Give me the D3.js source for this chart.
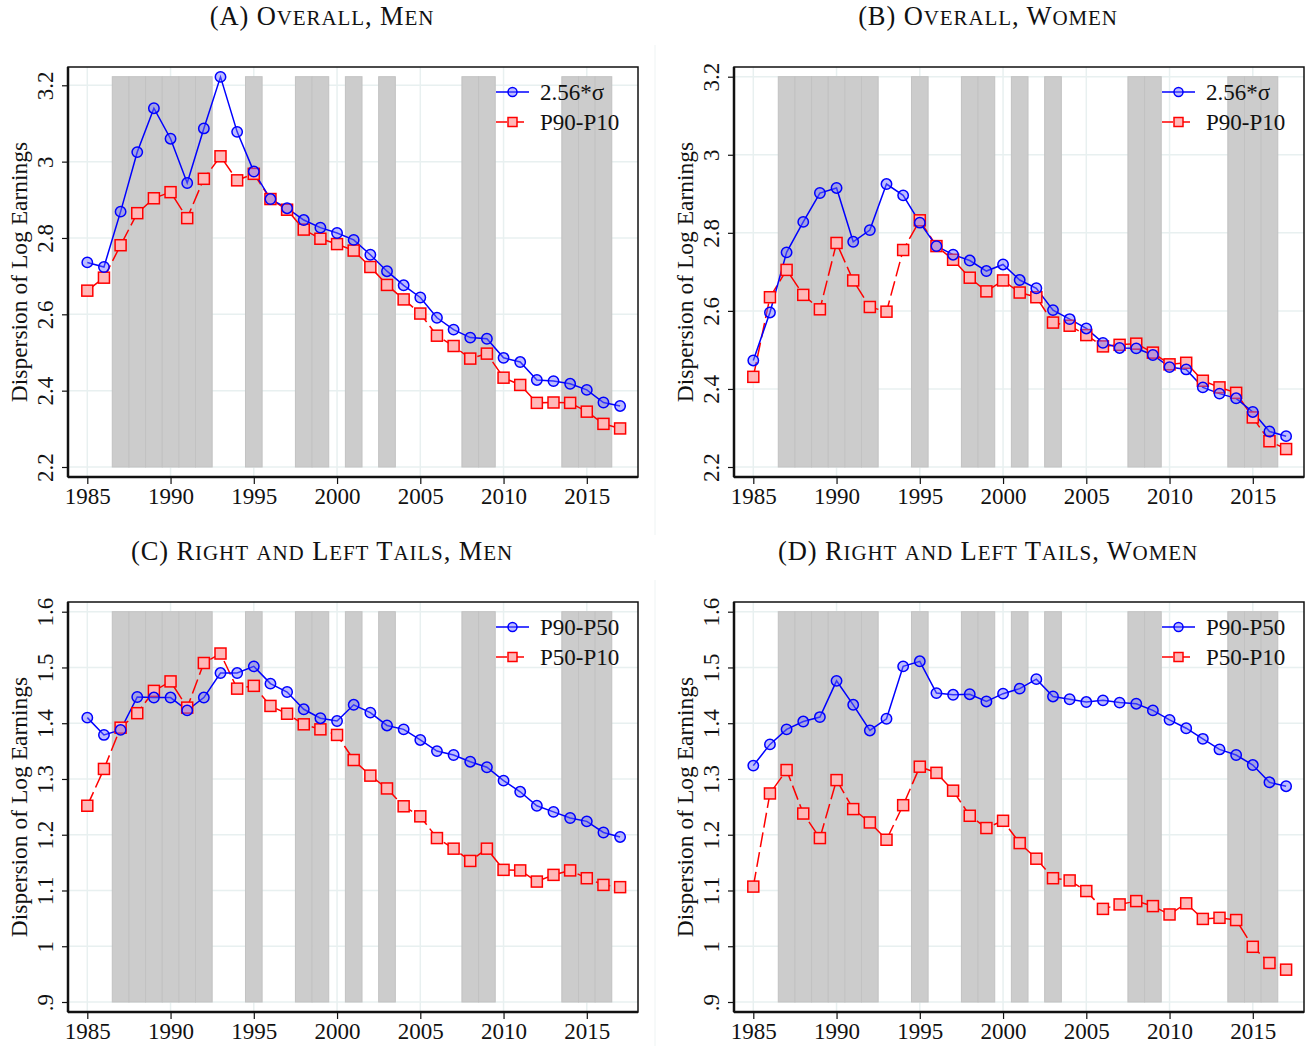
<!DOCTYPE html>
<html>
<head>
<meta charset="utf-8">
<script src="https://cdn.jsdelivr.net/npm/d3@7"></script>
<style>
  body { margin: 0; background: #fff; }
  svg text { font-family: "Liberation Serif", "DejaVu Serif", serif; fill: #111; }
</style>
</head>
<body>
<svg id="chart" width="1305" height="1046"></svg>
<script>
const years = d3.range(1985, 2018);
const recessionYears = [1987, 1988, 1989, 1990, 1991, 1992, 1995, 1998, 1999, 2001, 2003, 2008, 2009, 2014, 2015, 2016];

const titles = ["(A) Overall, Men", "(B) Overall, Women", "(C) Right and Left Tails, Men", "(D) Right and Left Tails, Women"];
const legendLabels = [["2.56*σ", "P90-P10"], ["2.56*σ", "P90-P10"], ["P90-P50", "P50-P10"], ["P90-P50", "P50-P10"]];
const yTicksTop = [2.2, 2.4, 2.6, 2.8, 3, 3.2];
const yTicksBottom = [0.9, 1, 1.1, 1.2, 1.3, 1.4, 1.5, 1.6];
const xTicks = [1985, 1990, 1995, 2000, 2005, 2010, 2015];

// panel A: overall, men
const menSigma = [2.736, 2.724, 2.869, 3.025, 3.140, 3.060, 2.944, 3.087, 3.222, 3.078, 2.974, 2.902, 2.878, 2.847, 2.827,
  2.813, 2.795, 2.756, 2.713, 2.676, 2.644, 2.591, 2.560, 2.539, 2.536, 2.486, 2.475, 2.428, 2.425, 2.418, 2.402, 2.369, 2.360];
const menP90P10 = [2.662, 2.696, 2.781, 2.865, 2.904, 2.920, 2.852, 2.955, 3.014, 2.951, 2.968, 2.902, 2.874, 2.822, 2.798,
  2.784, 2.767, 2.724, 2.677, 2.639, 2.602, 2.544, 2.517, 2.484, 2.497, 2.434, 2.415, 2.368, 2.369, 2.368, 2.345, 2.313, 2.301];
// panel B: overall, women
const womenSigma = [2.473, 2.596, 2.750, 2.828, 2.902, 2.915, 2.777, 2.807, 2.925, 2.896, 2.826, 2.766, 2.744, 2.729, 2.702,
  2.719, 2.679, 2.658, 2.602, 2.579, 2.555, 2.518, 2.505, 2.504, 2.487, 2.456, 2.450, 2.404, 2.388, 2.376, 2.341, 2.291, 2.279];
const womenP90P10 = [2.431, 2.635, 2.705, 2.641, 2.604, 2.774, 2.678, 2.610, 2.598, 2.756, 2.832, 2.766, 2.731, 2.685, 2.650,
  2.678, 2.647, 2.635, 2.570, 2.562, 2.538, 2.509, 2.513, 2.516, 2.493, 2.463, 2.467, 2.421, 2.404, 2.390, 2.327, 2.266, 2.246];
// panel C: tails, men
const menP90P50 = [1.410, 1.379, 1.388, 1.447, 1.446, 1.446, 1.423, 1.446, 1.490, 1.490, 1.502, 1.471, 1.456, 1.425, 1.409,
  1.404, 1.433, 1.419, 1.396, 1.389, 1.370, 1.350, 1.343, 1.331, 1.321, 1.297, 1.277, 1.252, 1.241, 1.230, 1.224, 1.204, 1.196];
const menP50P10 = [1.252, 1.318, 1.392, 1.418, 1.458, 1.475, 1.428, 1.508, 1.525, 1.462, 1.467, 1.431, 1.417, 1.398, 1.389,
  1.379, 1.334, 1.306, 1.283, 1.251, 1.233, 1.194, 1.175, 1.153, 1.175, 1.137, 1.136, 1.116, 1.128, 1.136, 1.122, 1.110, 1.106];
// panel D: tails, women
const womenP90P50 = [1.324, 1.362, 1.389, 1.403, 1.411, 1.476, 1.433, 1.387, 1.408, 1.502, 1.511, 1.454, 1.451, 1.452, 1.439,
  1.453, 1.462, 1.479, 1.448, 1.443, 1.438, 1.441, 1.437, 1.435, 1.423, 1.406, 1.391, 1.372, 1.353, 1.343, 1.325, 1.294, 1.287];
const womenP50P10 = [1.107, 1.274, 1.316, 1.238, 1.194, 1.298, 1.246, 1.222, 1.191, 1.253, 1.322, 1.311, 1.279, 1.234, 1.212,
  1.225, 1.185, 1.157, 1.122, 1.118, 1.099, 1.067, 1.075, 1.081, 1.072, 1.057, 1.077, 1.049, 1.051, 1.047, 0.999, 0.970, 0.958];

const panels = [
  {ox: 0, oy: 0, blue: menSigma, red: menP90P10, ydom: [2.2, 3.2225], ticks: yTicksTop, fmt: d => String(d)},
  {ox: 666, oy: 0, blue: womenSigma, red: womenP90P10, ydom: [2.2, 3.2], ticks: yTicksTop, fmt: d => String(d)},
  {ox: 0, oy: 535, blue: menP90P50, red: menP50P10, ydom: [0.9, 1.6], ticks: yTicksBottom, fmt: d => d === 0.9 ? ".9" : String(d)},
  {ox: 666, oy: 535, blue: womenP90P50, red: womenP50P10, ydom: [0.9, 1.6], ticks: yTicksBottom, fmt: d => d === 0.9 ? ".9" : String(d)}
];

const svg = d3.select("#chart");
const frame = {left: 68, right: 638, top: 67, bottom: 477};
const xScale = d3.scaleLinear().domain([1985, 2017]).range([87.3, 620.1]);

// faint panel separators
svg.append("line").attr("x1", 655).attr("x2", 655).attr("y1", 45).attr("y2", 535)
  .attr("stroke", "#eef3f3").attr("stroke-width", 1);
svg.append("line").attr("x1", 655).attr("x2", 655).attr("y1", 580).attr("y2", 1046)
  .attr("stroke", "#eef3f3").attr("stroke-width", 1);

// small caps by hand: capitals big, lower case letters as smaller capitals
function smallCaps(sel, str) {
  const parts = str.match(/[a-z]+|[^a-z]+/g);
  parts.forEach(s => {
    const lower = /^[a-z]+$/.test(s);
    sel.append("tspan")
      .style("font-size", lower ? "21px" : "26.5px")
      .text(lower ? s.toUpperCase() : s);
  });
}

panels.forEach((p, i) => {
  const g = svg.append("g").attr("transform", `translate(${p.ox},${p.oy})`);
  const yScale = d3.scaleLinear().domain(p.ydom).range([467, 76.7]);

  const title = g.append("text")
    .attr("x", 322).attr("y", 25)
    .attr("text-anchor", "middle")
    .style("letter-spacing", "0.9px");
  smallCaps(title, titles[i]);

  // gridlines
  g.append("g").selectAll("line").data(p.ticks).enter().append("line")
    .attr("x1", frame.left).attr("x2", frame.right)
    .attr("y1", d => yScale(d)).attr("y2", d => yScale(d))
    .attr("stroke", "#e8f0f0").attr("stroke-width", 1.5);
  g.append("g").selectAll("line").data(xTicks).enter().append("line")
    .attr("x1", d => xScale(d)).attr("x2", d => xScale(d))
    .attr("y1", frame.top).attr("y2", frame.bottom)
    .attr("stroke", "#e8f0f0").attr("stroke-width", 1.5);

  // recession shading, one rect per year
  g.append("g").selectAll("rect").data(recessionYears).enter().append("rect")
    .attr("x", d => xScale(d - 0.5))
    .attr("width", d => xScale(d + 0.5) - xScale(d - 0.5))
    .attr("y", yScale(p.ydom[1]))
    .attr("height", yScale(p.ydom[0]) - yScale(p.ydom[1]))
    .attr("fill", "#cccccc").attr("stroke", "#c2c2c2").attr("stroke-width", 1);

  // frame
  g.append("rect")
    .attr("x", frame.left).attr("y", frame.top)
    .attr("width", frame.right - frame.left).attr("height", frame.bottom - frame.top)
    .attr("fill", "none").attr("stroke", "#111").attr("stroke-width", 1.5);

  // axes
  const xAxis = d3.axisBottom(xScale).tickValues(xTicks).tickSize(7).tickPadding(4).tickFormat(d3.format("d"));
  const xg = g.append("g").attr("transform", `translate(0,${frame.bottom})`).call(xAxis);
  xg.select(".domain").attr("d", `M${frame.left},0H${frame.right}`).attr("stroke", "#111").attr("stroke-width", 2.5);
  xg.selectAll(".tick line").attr("stroke", "#111").attr("stroke-width", 1.2);
  xg.selectAll(".tick text").style("font-size", "23px").style("font-family", "Liberation Serif").attr("fill", "#111");

  const yAxis = d3.axisLeft(yScale).tickValues(p.ticks).tickSize(6).tickFormat(p.fmt);
  const yg = g.append("g").attr("transform", `translate(${frame.left},0)`).call(yAxis);
  yg.select(".domain").attr("d", `M0,${frame.top}V${frame.bottom}`).attr("stroke", "#111").attr("stroke-width", 2.5);
  yg.selectAll(".tick line").attr("stroke", "#111").attr("stroke-width", 1.2);
  yg.selectAll(".tick text")
    .attr("x", null).attr("dy", null)
    .attr("transform", "translate(-15,0) rotate(-90)")
    .attr("text-anchor", "middle")
    .attr("y", 0)
    .style("font-size", "23px").style("font-family", "Liberation Serif").attr("fill", "#111");

  // y axis title
  g.append("text")
    .attr("transform", `translate(27,${(frame.top + frame.bottom) / 2}) rotate(-90)`)
    .attr("text-anchor", "middle")
    .style("font-size", "23.5px")
    .text("Dispersion of Log Earnings");

  const line = d3.line().x((d, j) => xScale(years[j])).y(d => yScale(d));

  // red dashed series with squares, blue solid with circles
  g.append("path").datum(p.red).attr("d", line)
    .attr("fill", "none").attr("stroke", "#ff0000").attr("stroke-width", 1.5)
    .attr("stroke-dasharray", "15,5");
  g.append("path").datum(p.blue).attr("d", line)
    .attr("fill", "none").attr("stroke", "#0000ff").attr("stroke-width", 1.5);

  g.append("g").selectAll("rect").data(p.red).enter().append("rect")
    .attr("x", (d, j) => xScale(years[j]) - 5.5).attr("y", d => yScale(d) - 5.5)
    .attr("width", 11).attr("height", 11)
    .attr("fill", "#ffb8b8").attr("stroke", "#ff0000").attr("stroke-width", 1.5);
  g.append("g").selectAll("circle").data(p.blue).enter().append("circle")
    .attr("cx", (d, j) => xScale(years[j])).attr("cy", d => yScale(d))
    .attr("r", 5.2)
    .attr("fill", "rgba(110,110,255,0.45)").attr("stroke", "#0000ff").attr("stroke-width", 1.5);

  // legend
  const lg = g.append("g");
  const ly = [frame.top + 25, frame.top + 55];
  lg.append("line").attr("x1", 496).attr("x2", 529).attr("y1", ly[0]).attr("y2", ly[0])
    .attr("stroke", "#0000ff").attr("stroke-width", 1.5);
  lg.append("circle").attr("cx", 512.5).attr("cy", ly[0]).attr("r", 4.5)
    .attr("fill", "rgba(110,110,255,0.45)").attr("stroke", "#0000ff").attr("stroke-width", 1.5);
  lg.append("line").attr("x1", 496).attr("x2", 529).attr("y1", ly[1]).attr("y2", ly[1])
    .attr("stroke", "#ff0000").attr("stroke-width", 1.5).attr("stroke-dasharray", "11,6");
  lg.append("rect").attr("x", 508).attr("y", ly[1] - 4.5).attr("width", 9).attr("height", 9)
    .attr("fill", "#ffb8b8").attr("stroke", "#ff0000").attr("stroke-width", 1.5);
  legendLabels[i].forEach((t, k) => {
    lg.append("text").attr("x", 540).attr("y", ly[k] + 8)
      .style("font-size", "23px").text(t);
  });
});
</script>
</body>
</html>
